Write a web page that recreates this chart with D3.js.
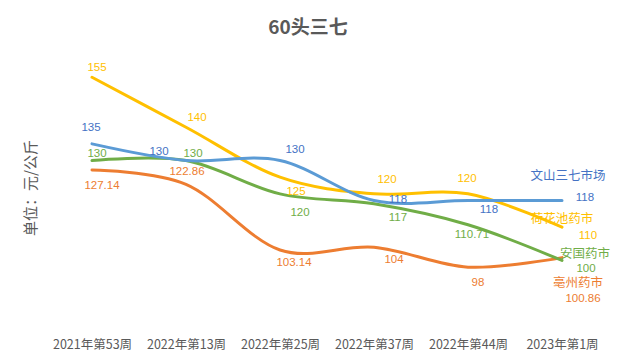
<!DOCTYPE html>
<html><head><meta charset="utf-8">
<script src="https://cdn.jsdelivr.net/npm/d3@7/dist/d3.min.js"></script>
<style>
body{margin:0;background:#fff;}
svg{display:block;}
</style></head>
<body><svg id="c" width="617" height="360"></svg>
<script>
const categories = ["2021年第53周","2022年第13周","2022年第25周","2022年第37周","2022年第44周","2023年第1周"];
const seriesNames = ["文山三七市场","荷花池药市","安国药市","亳州药市"];
const wenshan = [135,130,130,118,118,118];
const hehuachi = [155,140,125,120,120,110];
const anguo = [130,130,120,117,110.71,100];
const bozhou = [127.14,122.86,103.14,104,98,100.86];

// layout (label offsets from points, name label positions) — not data
const labelOffsets = [
  [[-1,-17],[-27,-10],[15,-12],[24,-2],[21,8],[23,-4]],
  [[5,-10],[11,-10],[16,14],[13,-15],[-1,-16],[26,8]],
  [[5,-8],[7,-8],[20,18],[24,13],[4,9],[24,7]],
  [[10,15],[1,-13],[14,12],[20,12],[10,15],[21,40]]
];
const nameOffsets = [[6,-25],[0,-9],[23,-7],[16,25]];
const lineColors = ["#5B9BD5","#FFC000","#70AD47","#ED7D31"];
const textColors = ["#4472C4","#FFC000","#70AD47","#ED7D31"];

const series = [wenshan, hehuachi, anguo, bozhou];
const svg = d3.select("#c");
const x = d3.scalePoint().domain(categories).range([92,562]);
const y = d3.scaleLinear().domain([80,160]).range([327.1,60.6]);

// title
svg.append("text").attr("x",308).attr("y",34).attr("text-anchor","middle")
  .attr("font-family","'Noto Sans CJK SC','Noto Sans',sans-serif").attr("font-weight","bold")
  .attr("font-size",19).attr("fill","#595959").text("60头三七");

// y axis title
svg.append("text").attr("transform","translate(36,188) rotate(-90)").attr("text-anchor","middle")
  .attr("font-family","'Noto Sans CJK SC',sans-serif").attr("font-size",15).attr("fill","#595959")
  .text("单位：元/公斤");

// x axis (labels only)
const xAxis = d3.axisBottom(x).tickSize(0).tickPadding(0);
const gx = svg.append("g").attr("transform","translate(0,340)").call(xAxis);
gx.select(".domain").remove();
gx.selectAll("text").attr("font-family","'Noto Sans CJK SC',sans-serif").attr("font-size",12.5).attr("fill","#595959");

const line = d3.line().x((d,i)=>x(categories[i])).y(d=>y(d)).curve(d3.curveCatmullRom.alpha(0));

const drawOrder = [3,2,1,0];
drawOrder.forEach(s=>{
  svg.append("path").datum(series[s]).attr("d",line).attr("fill","none")
    .attr("stroke",lineColors[s]).attr("stroke-width",3).attr("stroke-linecap","round");
});

series.forEach((vals,s)=>{
  svg.append("g").selectAll("text").data(vals).join("text")
    .attr("x",(d,i)=>x(categories[i])+labelOffsets[s][i][0])
    .attr("y",(d,i)=>y(d)+labelOffsets[s][i][1])
    .attr("dy","0.35em").attr("text-anchor","middle")
    .attr("font-family","'Liberation Sans',Arial,sans-serif").attr("font-size",11.5)
    .attr("fill",textColors[s]).text(d=>d);
  const last = vals.length-1;
  svg.append("text")
    .attr("x",x(categories[last])+nameOffsets[s][0])
    .attr("y",y(vals[last])+nameOffsets[s][1])
    .attr("dy","0.35em").attr("text-anchor","middle")
    .attr("font-family","'Noto Sans CJK SC',sans-serif").attr("font-size",12.5)
    .attr("fill",textColors[s]).text(seriesNames[s]);
});
</script></body></html>
